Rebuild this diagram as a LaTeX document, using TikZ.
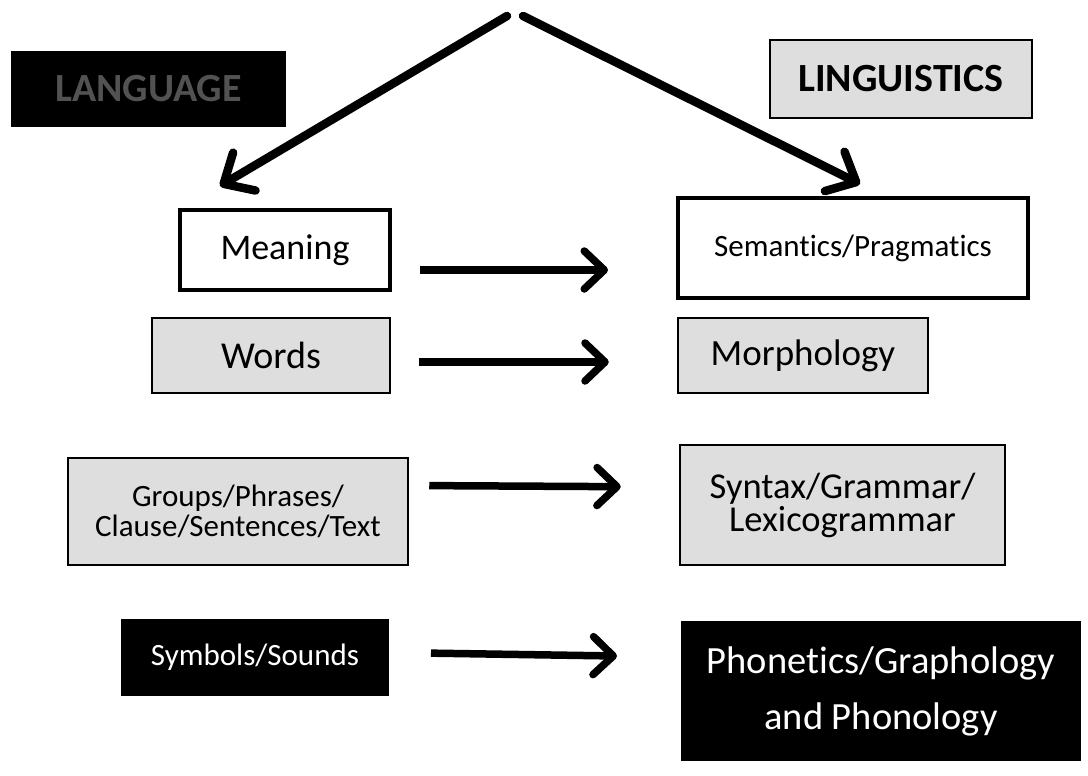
\documentclass[tikz,border=0pt]{standalone}
\usepackage{fontspec}
\setmainfont{Carlito}[RawFeature={-liga;-clig;-dlig;-calt}]
\usetikzlibrary{arrows.meta}
\newcommand{\myfs}[2]{\fontsize{#1}{#2}\selectfont}
\begin{document}
\begin{tikzpicture}[x=1pt,y=-1pt,
  base/.style={inner sep=0pt, align=center, text=black},
  whitebox/.style={base, draw=black, line width=4pt, fill=white},
  graybox/.style={base, draw=black, line width=2.5pt, fill=black!13},
  darkbox/.style={base, draw=black, line width=2pt, fill=black, text=white},
  harr/.style={line width=7.5pt, -{Straight Barb[length=20pt,width=38pt,round]}},
  darr/.style={line width=8.5pt, line cap=round, -{Straight Barb[length=24pt,width=44pt,round]}}
]
\useasboundingbox (0,0) rectangle (1088,776);
\fill[white] (0,0) rectangle (1088,776);

% title boxes
\node[darkbox, minimum width=273pt, minimum height=74pt, text=black!68, font=\myfs{40}{44}\bfseries] (lang) at (148.5,89) {LANGUAGE};
\node[graybox, minimum width=262pt, minimum height=78pt, font=\myfs{40}{44}\bfseries] (ling) at (901,79) {LINGUISTICS};

% left column
\node[whitebox, minimum width=210pt, minimum height=80pt, font=\myfs{36}{40}] (meaning) at (285,250) {Meaning};
\node[graybox, minimum width=238pt, minimum height=75pt, font=\myfs{38}{42}] (words) at (271,355.5) {Words};
\node[graybox, minimum width=340pt, minimum height=107pt, font=\myfs{31}{30}] (groups) at (238,511.5) {Groups/Phrases/\\Clause/Sentences/Text};
\node[darkbox, minimum width=266pt, minimum height=75pt, font=\myfs{31}{34}] (symbols) at (255,657.5) {Symbols/Sounds};

% right column
\node[whitebox, minimum width=350pt, minimum height=100pt, font=\myfs{31}{34}] (sem) at (853,248) {Semantics/Pragmatics};
\node[graybox, minimum width=250pt, minimum height=75pt, font=\myfs{37}{40}] (morph) at (803,355.5) {Morphology};
\node[graybox, minimum width=325pt, minimum height=120pt, font=\myfs{36.5}{33}] (syntax) at (842.5,505) {Syntax/Grammar/\\Lexicogrammar};
\node[darkbox, minimum width=398pt, minimum height=138pt, font=\myfs{38.5}{56}] (phon) at (881,691) {Phonetics/Graphology\\and Phonology};

% top arrows
\coordinate (apexL) at (507,16);
\coordinate (apexR) at (523,16);
\coordinate (tipL) at (220,186);
\coordinate (tipR) at (860,184);
\draw[darr] (apexL) -- (tipL);
\draw[darr] (apexR) -- (tipR);

% horizontal arrows
\draw[harr, shorten <=28pt, shorten >=68pt] ([yshift=-20pt]meaning.east) -- ([yshift=-22pt]sem.west);
\draw[harr, shorten <=28pt, shorten >=68pt] ([yshift=-6.5pt]words.east) -- ([yshift=-6.5pt]morph.west);
\draw[harr, shorten <=20pt, shorten >=58pt] ([yshift=26pt]groups.east) -- ([yshift=18pt]syntax.west);
\draw[harr, shorten <=42pt, shorten >=64pt] ([yshift=5pt]symbols.east) -- ([yshift=34pt]phon.west);
\end{tikzpicture}
\end{document}
